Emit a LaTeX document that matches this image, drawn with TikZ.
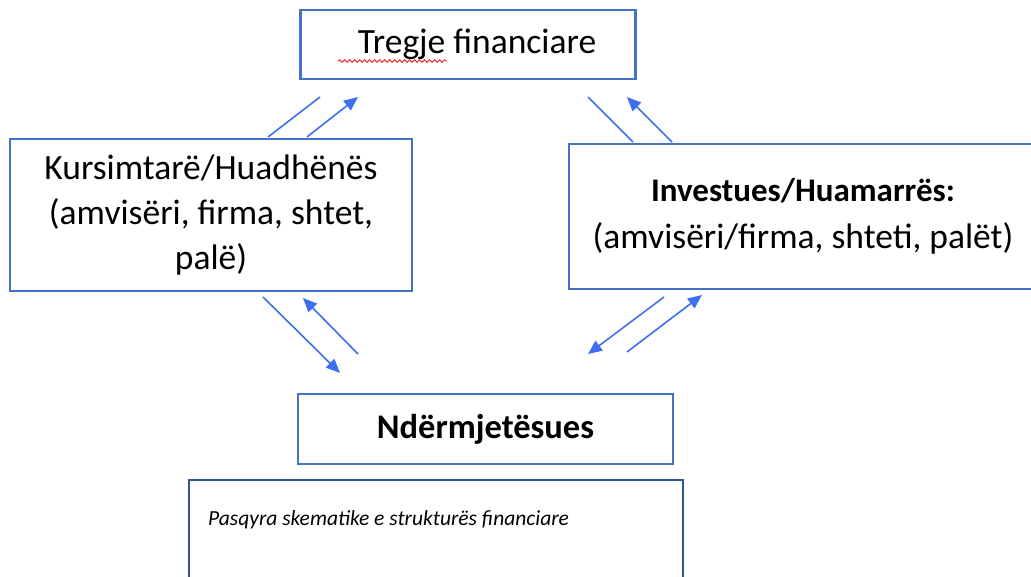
\documentclass[tikz,border=0pt]{standalone}
\usepackage{fontspec}
\setmainfont{Carlito}
\usetikzlibrary{arrows.meta,decorations.pathmorphing}
\definecolor{boxblue}{HTML}{4472C4}
\definecolor{darkblue}{HTML}{2F5597}
\definecolor{arrblue}{HTML}{3D6FF0}
\definecolor{squig}{HTML}{F03030}
\begin{document}
\begin{tikzpicture}[x=1pt,y=-1pt,
  box/.style={draw=boxblue,line width=2.5pt,inner sep=0pt,align=center,
    font=\fontsize{35.5}{45}\selectfont},
  arr/.style={draw=arrblue,line width=1.6pt,-{Triangle[length=14pt,width=12pt]}},
  ln/.style={draw=arrblue,line width=1.6pt}]
\useasboundingbox (0,0) rectangle (1031,577);
\fill[white] (0,0) rectangle (1031,577);
% boxes
\node[box,minimum width=335pt,minimum height=69pt] (market) at (468,44.5)
  {\hspace*{18pt}Tregje financiare};
\node[box,minimum width=402pt,minimum height=152pt] (kursim) at (211,215)
  {Kursimtarë/Huadhënës\\(amvisëri, firma, shtet,\\palë)};
\node[box,minimum width=468pt,minimum height=145pt,
  font=\fontsize{35.5}{47}\selectfont] (invest) at (803,216.5)
  {{\fontsize{33}{47}\selectfont\bfseries Investues/Huamarrës:}\\(amvisëri/firma, shteti, palët)};
\node[box,minimum width=375pt,minimum height=70pt,
  font=\fontsize{34.5}{44}\selectfont\bfseries] (ndermj) at (485.5,429)
  {Ndërmjetësues};
\node[draw=darkblue,line width=2.5pt,minimum width=494pt,minimum height=160pt,
  inner sep=0pt] (skema) at (436,560) {};
\node[anchor=west,inner sep=0pt,font=\fontsize{21.5}{26}\selectfont\itshape]
  (skematxt) at (208,520) {Pasqyra skematike e strukturës financiare};
% spell-check squiggle
\draw[squig,line width=1pt,decorate,decoration={snake,amplitude=1.3pt,segment length=5pt}]
  (338,61) -- (447,61);
% arrow end points
\coordinate (l1a) at (268,137); \coordinate (l1b) at (320,97);
\coordinate (l2a) at (307,137); \coordinate (l2b) at (358,97);
\coordinate (r1a) at (588,97);  \coordinate (r1b) at (633,142);
\coordinate (r2a) at (672,142); \coordinate (r2b) at (627,97);
\coordinate (d1a) at (263,297); \coordinate (d1b) at (340,373);
\coordinate (d2a) at (358,354); \coordinate (d2b) at (303,298);
\coordinate (e1a) at (664,297); \coordinate (e1b) at (588,354);
\coordinate (e2a) at (627,352); \coordinate (e2b) at (702,295);
% connectors
\draw[ln] (l1a) -- (l1b);
\draw[arr] (l2a) -- (l2b);
\draw[ln] (r1a) -- (r1b);
\draw[arr] (r2a) -- (r2b);
\draw[arr] (d1a) -- (d1b);
\draw[arr] (d2a) -- (d2b);
\draw[arr] (e1a) -- (e1b);
\draw[arr] (e2a) -- (e2b);
\end{tikzpicture}
\end{document}
